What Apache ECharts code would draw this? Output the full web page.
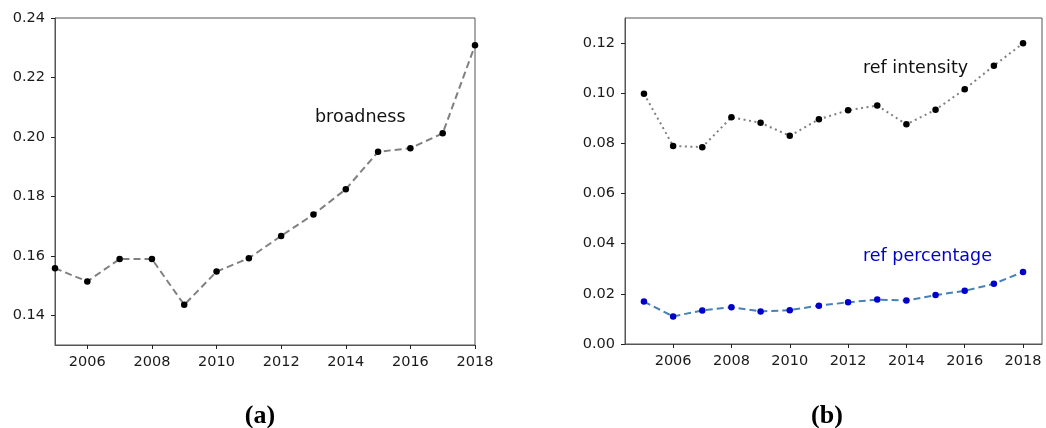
<!DOCTYPE html>
<html>
<head>
<meta charset="utf-8">
<script src="https://cdn.jsdelivr.net/npm/echarts@6/dist/echarts.min.js"></script>
<style>
html,body{margin:0;padding:0;background:#fff;}
#chart{width:1046px;height:428px;}
</style>
</head>
<body>
<div id="chart"></div>
<script>
const years = [2005, 2006, 2007, 2008, 2009, 2010, 2011, 2012, 2013, 2014, 2015, 2016, 2017, 2018];
const broadness = [0.1558, 0.1514, 0.1589, 0.1589, 0.1435, 0.1547, 0.1592, 0.1667, 0.1739, 0.1824, 0.1950, 0.1962, 0.2012, 0.2308];
const refIntensity = [0.0998, 0.0790, 0.0785, 0.0904, 0.0882, 0.0830, 0.0896, 0.0932, 0.0951, 0.0876, 0.0934, 0.1016, 0.1110, 0.1199];
const refPercentage = [0.0169, 0.0110, 0.0134, 0.0147, 0.0130, 0.0135, 0.0153, 0.0166, 0.0177, 0.0173, 0.0195, 0.0212, 0.0240, 0.0287];
const xTickLabels = [2006, 2008, 2010, 2012, 2014, 2016, 2018];
const yTicksA = [0.14, 0.16, 0.18, 0.20, 0.22, 0.24];
const yTicksB = [0.00, 0.02, 0.04, 0.06, 0.08, 0.10, 0.12];
const labelA = 'broadness';
const labelB1 = 'ref intensity';
const labelB2 = 'ref percentage';
const panelA = '(a)';
const panelB = '(b)';

const FONT = 'DejaVu Sans';
const pair = arr => years.map((y, i) => [y, arr[i]]);

function xAxis(gi, min, max) {
  return {
    type: 'value', gridIndex: gi, min: min, max: max,
    axisLine: {show: true, lineStyle: {color: '#555', width: 1}},
    axisTick: {show: true, length: 4, lineStyle: {color: '#222'}, customValues: xTickLabels},
    axisLabel: {customValues: xTickLabels, color: '#1a1a1a', fontFamily: FONT, fontSize: 14.5, margin: 10,
      formatter: v => String(v)},
    splitLine: {show: false}
  };
}
function yAxis(gi, min, max, ticks) {
  return {
    type: 'value', gridIndex: gi, min: min, max: max,
    axisLine: {show: true, lineStyle: {color: '#555', width: 1}},
    axisTick: {show: true, length: 4, lineStyle: {color: '#222'}, customValues: ticks},
    axisLabel: {customValues: ticks, color: '#1a1a1a', fontFamily: FONT, fontSize: 14.5, margin: 10,
      formatter: v => v.toFixed(2)},
    splitLine: {show: false}
  };
}

const chart = echarts.init(document.getElementById('chart'), null, {renderer: 'canvas'});
chart.setOption({
  backgroundColor: '#fff',
  animation: false,
  grid: [
    {left: 55, top: 18, width: 420, height: 327, show: true, borderColor: '#555', borderWidth: 1, backgroundColor: 'transparent'},
    {left: 625, top: 18, width: 417, height: 326, show: true, borderColor: '#555', borderWidth: 1, backgroundColor: 'transparent'}
  ],
  xAxis: [xAxis(0, 2005, 2018), xAxis(1, 2004.35, 2018.65)],
  yAxis: [yAxis(0, 0.13, 0.24, yTicksA), yAxis(1, 0, 0.13, yTicksB)],
  series: [
    {type: 'line', xAxisIndex: 0, yAxisIndex: 0, data: pair(broadness), clip: true,
      symbol: 'circle', symbolSize: 6.5, itemStyle: {color: '#000'},
      lineStyle: {color: '#808080', width: 2, type: [7, 4]}},
    {type: 'line', xAxisIndex: 1, yAxisIndex: 1, data: pair(refIntensity),
      symbol: 'circle', symbolSize: 6.5, itemStyle: {color: '#000'},
      lineStyle: {color: '#808080', width: 2, type: [2, 3.5]}},
    {type: 'line', xAxisIndex: 1, yAxisIndex: 1, data: pair(refPercentage),
      symbol: 'circle', symbolSize: 6.5, itemStyle: {color: '#0000cc'},
      lineStyle: {color: '#4682b4', width: 2, type: [7, 4]}}
  ],
  graphic: [
    {type: 'text', left: 315, top: 108, style: {text: labelA, fill: '#111', font: '17.5px "DejaVu Sans"'}},
    {type: 'text', left: 863, top: 59, style: {text: labelB1, fill: '#111', font: '17.5px "DejaVu Sans"'}},
    {type: 'text', left: 863, top: 247, style: {text: labelB2, fill: '#0000cc', font: '17.5px "DejaVu Sans"'}},
    {type: 'text', x: 260, y: 416, style: {text: panelA, fill: '#000', font: 'bold 26px "Liberation Serif"', align: 'center', verticalAlign: 'middle'}},
    {type: 'text', x: 827, y: 416, style: {text: panelB, fill: '#000', font: 'bold 26px "Liberation Serif"', align: 'center', verticalAlign: 'middle'}}
  ]
});
</script>
</body>
</html>
